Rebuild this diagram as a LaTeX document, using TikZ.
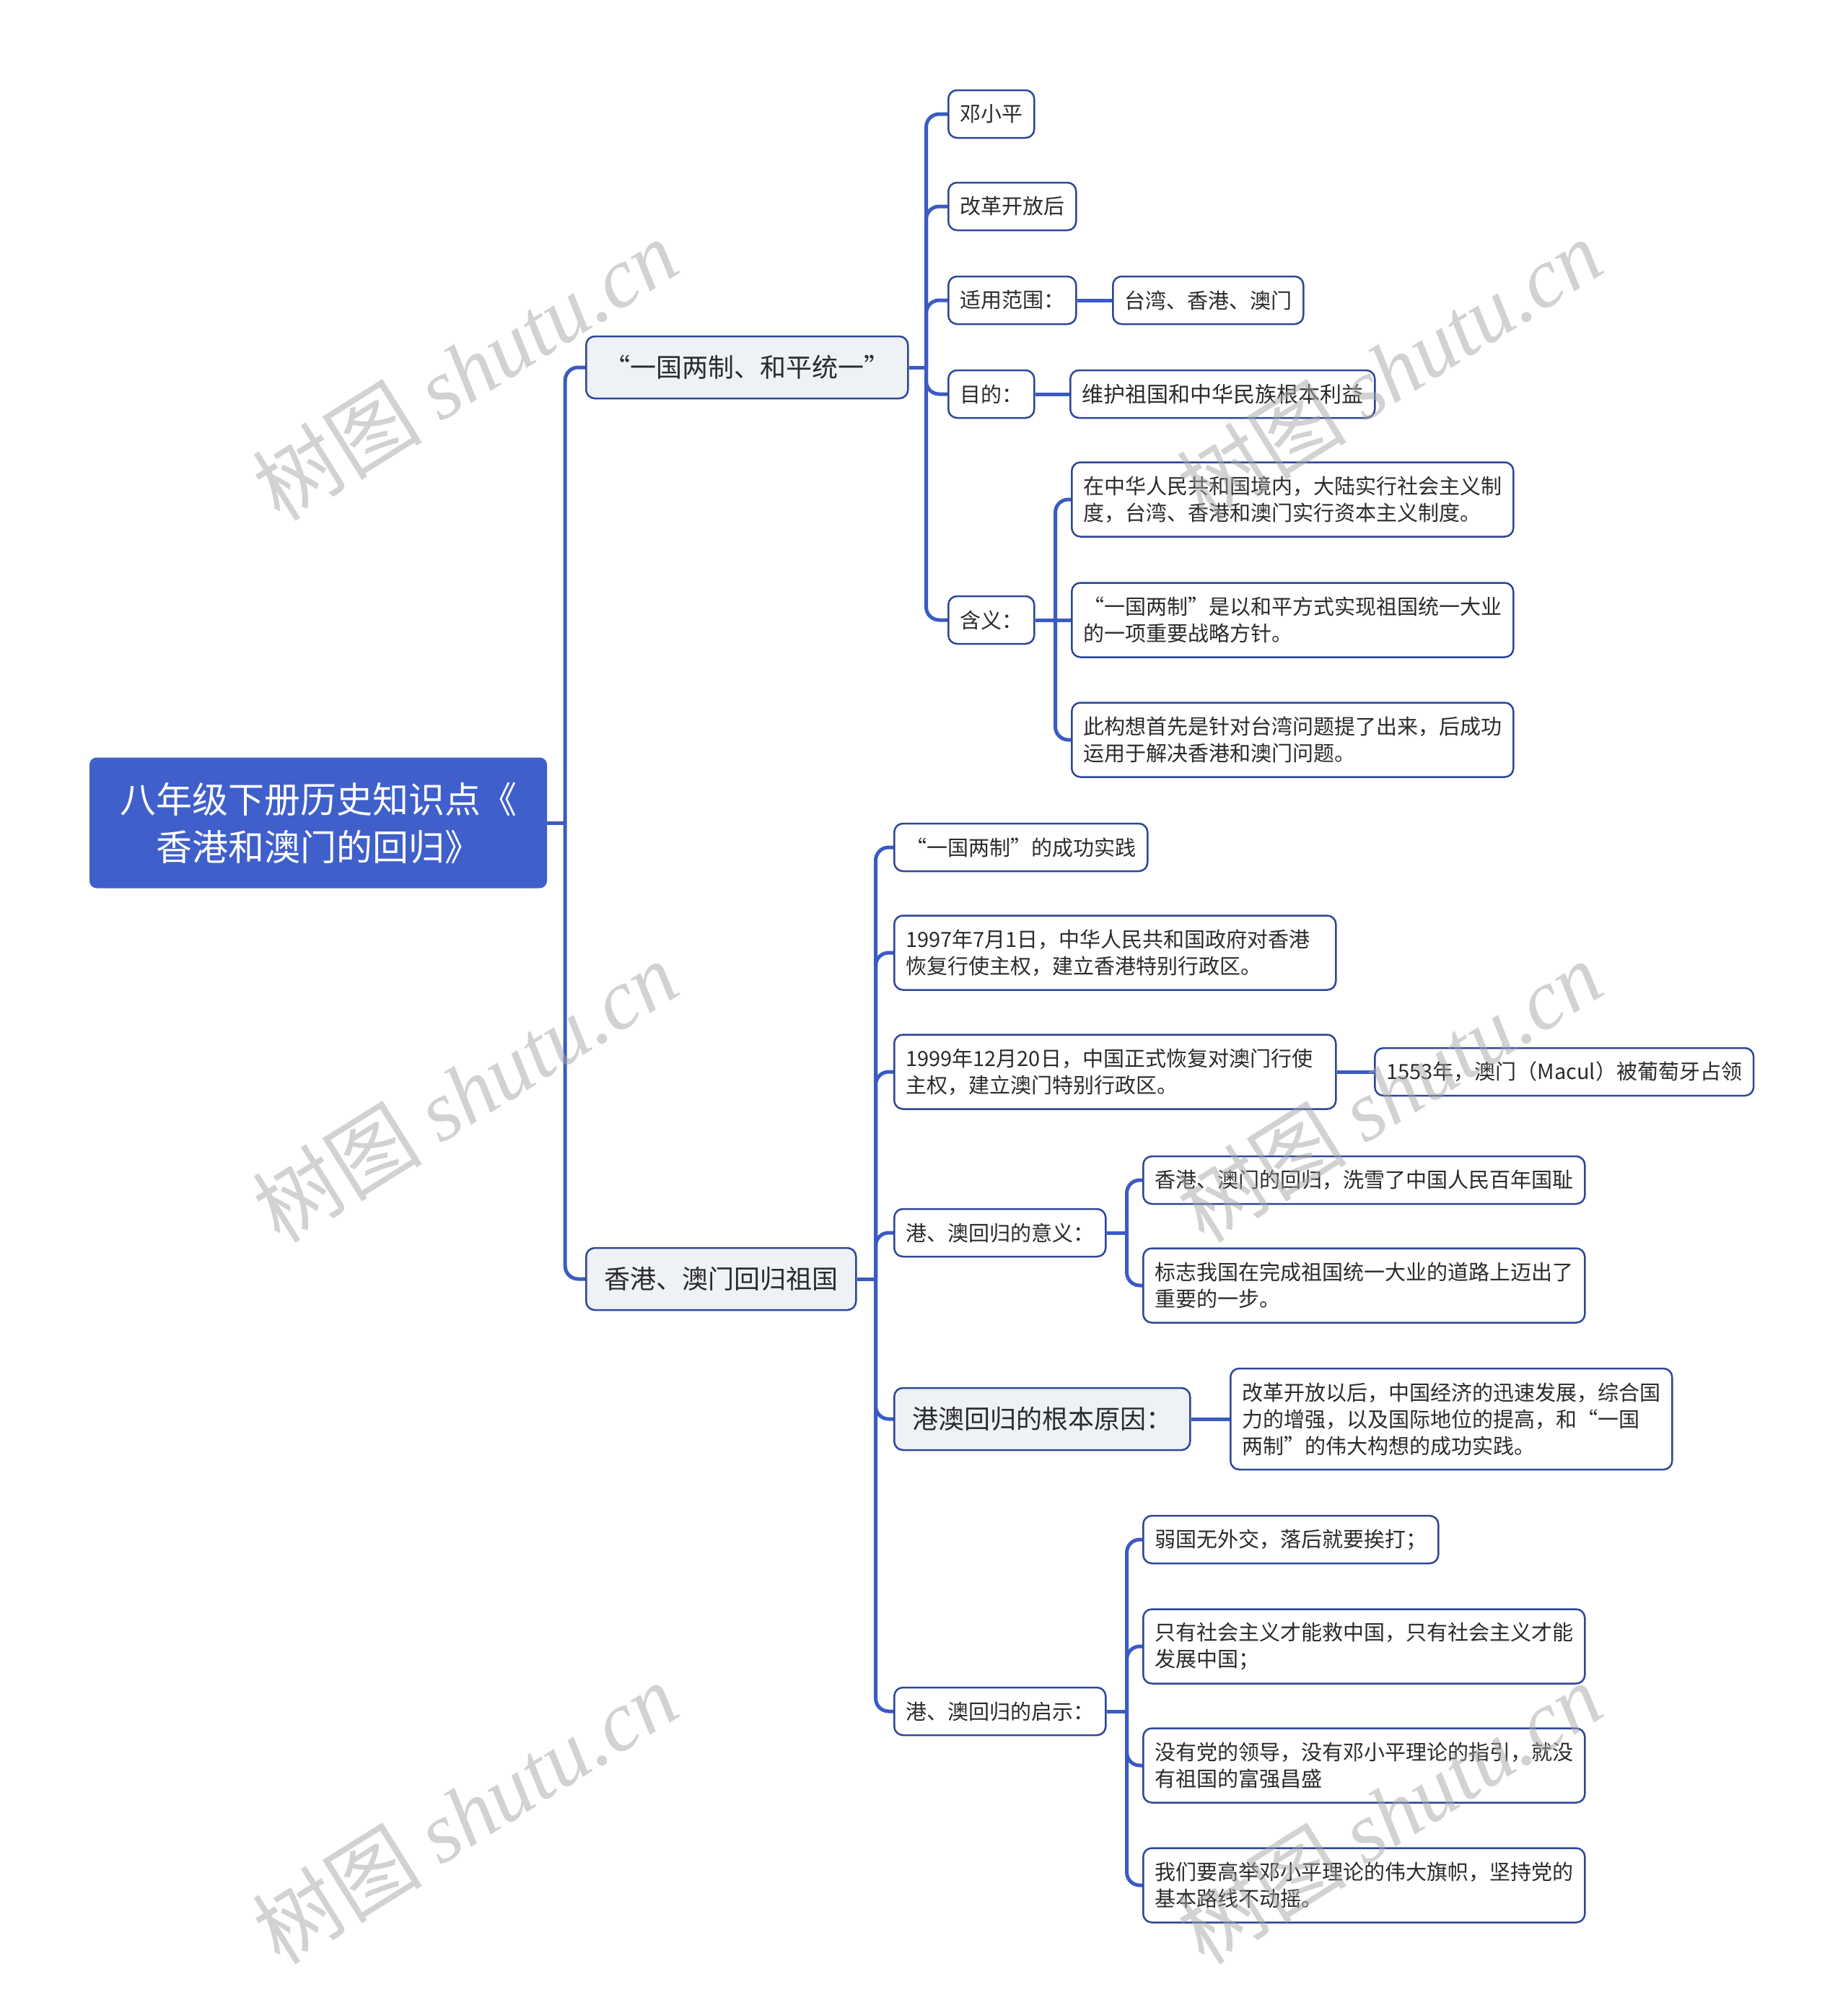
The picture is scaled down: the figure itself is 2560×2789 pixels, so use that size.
\documentclass[tikz,border=0pt]{standalone}
\usepackage{fontspec}
\setmainfont{Noto Sans CJK SC}
\newfontfamily\fwq[CharacterWidth=Full]{Noto Sans CJK SC}
\newfontfamily\wmfont{Liberation Serif}
\newcommand\oq{{\fwq “}}
\newcommand\cq{{\fwq ”}}
\usetikzlibrary{backgrounds}
\definecolor{cblue}{HTML}{3F5FCB}
\definecolor{cline}{HTML}{3A5BC4}
\definecolor{cedge}{HTML}{2D4898}
\definecolor{cpale}{HTML}{EEF1F6}
\definecolor{ctext}{HTML}{2B2B2B}

\begin{document}
\begin{tikzpicture}[
  x=1pt, y=-1pt,
  root/.style={rectangle, rounded corners=10pt, fill=cblue, text=white,
    font=\fontsize{50}{66}\selectfont, align=center,
    minimum width=634pt, minimum height=181pt},
  topic/.style={rectangle, rounded corners=12pt, draw=cedge, line width=2.5pt,
    fill=cpale, text=ctext, font=\fontsize{36}{44}\selectfont,
    inner xsep=25pt, minimum height=86pt, anchor=west},
  leaf/.style={rectangle, rounded corners=12pt, draw=cedge, line width=2.5pt,
    fill=white, text=ctext, font=\fontsize{29}{37}\selectfont,
    inner xsep=16pt, inner ysep=8pt, minimum height=66pt, anchor=west},
  wide/.style={leaf, text width=580pt, align=left},
  two/.style={wide, minimum height=103pt},
  three/.style={wide, minimum height=140pt},
  link/.style={draw=cline, line width=5pt},
  elbow/.style={link, rounded corners=18pt},
  wm/.style={text=black!35, text opacity=0.5, rotate=32,
    font=\fontsize{118}{118}\selectfont},
  ]
\path[use as bounding box] (0,0) rectangle (2560,2789);

\node[root] (root) at (441,1140) {八年级下册历史知识点《\\香港和澳门的回归》};

\node[topic] (yg) at (811,509) {\oq 一国两制、和平统一\cq};
\node[topic] (hg) at (811,1772) {香港、澳门回归祖国};

% 一国两制
\node[leaf] (dxp) at (1313,158) {邓小平};
\node[leaf] (ggkf) at (1313,286) {改革开放后};
\node[leaf] (syfw) at (1313,416) {适用范围：};
\node[leaf] (twxa) at (1541,416) {台湾、香港、澳门};
\node[leaf, font=\fontsize{30}{37}\selectfont] (whzg) at (1482,546) {维护祖国和中华民族根本利益};
\node[leaf] (md) at (1313,546) {目的：};
\node[leaf] (hy) at (1313,859) {含义：};
\node[two] (hy1) at (1484,692) {在中华人民共和国境内，大陆实行社会主义制\\度，台湾、香港和澳门实行资本主义制度。};
\node[two] (hy2) at (1484,859) {\oq 一国两制\cq 是以和平方式实现祖国统一大业\\的一项重要战略方针。};
\node[two] (hy3) at (1484,1025) {此构想首先是针对台湾问题提了出来，后成功\\运用于解决香港和澳门问题。};

% 回归祖国
\node[leaf] (cgsj) at (1238,1174) {\oq 一国两制\cq 的成功实践};
\node[two] (hk97) at (1238,1320) {1997年7月1日，中华人民共和国政府对香港\\恢复行使主权，建立香港特别行政区。};
\node[two] (mc99) at (1238,1485) {1999年12月20日，中国正式恢复对澳门行使\\主权，建立澳门特别行政区。};
\node[leaf] (mc53) at (1904,1485) {1553年，澳门（Macul）被葡萄牙占领};
\node[leaf] (yy) at (1238,1708) {港、澳回归的意义：};
\node[leaf] (yy1) at (1583,1635) {香港、澳门的回归，洗雪了中国人民百年国耻};
\node[two] (yy2) at (1583,1781) {标志我国在完成祖国统一大业的道路上迈出了\\重要的一步。};
\node[topic] (gbyy) at (1238,1966) {港澳回归的根本原因：};
\node[three] (gbyy1) at (1704,1966) {改革开放以后，中国经济的迅速发展，综合国\\力的增强，以及国际地位的提高，和\oq 一国\\两制\cq 的伟大构想的成功实践。};
\node[leaf] (qs) at (1238,2371) {港、澳回归的启示：};
\node[leaf] (qs1) at (1583,2133) {弱国无外交，落后就要挨打；};
\node[two] (qs2) at (1583,2281) {只有社会主义才能救中国，只有社会主义才能\\发展中国；};
\node[two] (qs3) at (1583,2446) {没有党的领导，没有邓小平理论的指引，就没\\有祖国的富强昌盛};
\node[two] (qs4) at (1583,2612) {我们要高举邓小平理论的伟大旗帜，坚持党的\\基本路线不动摇。};

\begin{scope}[on background layer]
\fill[white] (0,0) rectangle (2560,2789);
\coordinate (j0) at ([xshift=25pt]root.east);
\draw[link] (root.east) -- (j0);
\foreach \n in {yg,hg} \draw[elbow] (j0) |- (\n.west);

\coordinate (j1) at ([xshift=24pt]yg.east);
\draw[link] (yg.east) -- (j1);
\foreach \n in {dxp,ggkf,syfw,md,hy} \draw[elbow] (j1) |- (\n.west);
\draw[link] (syfw.east) -- (twxa.west);
\draw[link] (md.east) -- (whzg.west);
\coordinate (j2) at ([xshift=28pt]hy.east);
\draw[link] (hy.east) -- (hy2.west);
\foreach \n in {hy1,hy3} \draw[elbow] (j2) |- (\n.west);

\coordinate (j3) at ([xshift=26pt]hg.east);
\draw[link] (hg.east) -- (j3);
\foreach \n in {cgsj,hk97,mc99,yy,gbyy,qs} \draw[elbow] (j3) |- (\n.west);
\draw[link] (mc99.east) -- (mc53.west);
\draw[link] (gbyy.east) -- (gbyy1.west);
\coordinate (j4) at ([xshift=28pt]yy.east);
\draw[link] (yy.east) -- (j4);
\foreach \n in {yy1,yy2} \draw[elbow] (j4) |- (\n.west);
\coordinate (j5) at ([xshift=28pt]qs.east);
\draw[link] (qs.east) -- (j5);
\foreach \n in {qs1,qs2,qs3,qs4} \draw[elbow] (j5) |- (\n.west);
\end{scope}

\foreach \x/\y in {644/512,1925/512,644/1512,1925/1512,644/2512,1925/2512}
  \node[wm] (wm\x\y) at (\x,\y) {树图 {\wmfont\itshape shutu.cn}};
\end{tikzpicture}
\end{document}
